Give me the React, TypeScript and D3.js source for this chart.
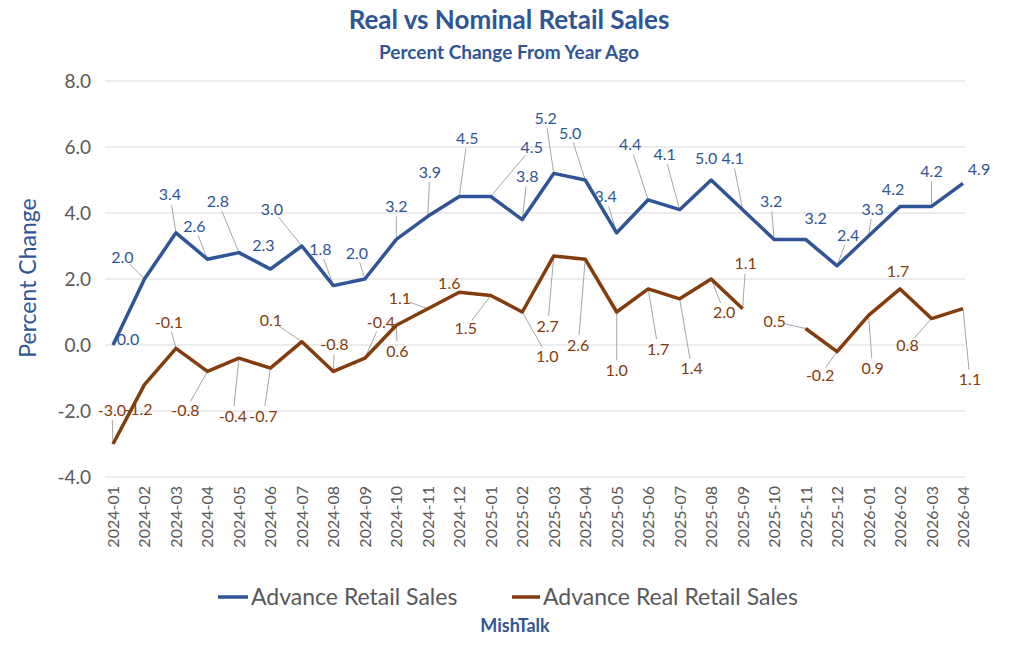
import React from "react";
import * as d3 from "d3";

const months = ["2024-01","2024-02","2024-03","2024-04","2024-05","2024-06","2024-07","2024-08","2024-09","2024-10","2024-11","2024-12","2025-01","2025-02","2025-03","2025-04","2025-05","2025-06","2025-07","2025-08","2025-09","2025-10","2025-11","2025-12","2026-01","2026-02","2026-03","2026-04"];
const nominal: number[] = [0.0,2.0,3.4,2.6,2.8,2.3,3.0,1.8,2.0,3.2,3.9,4.5,4.5,3.8,5.2,5.0,3.4,4.4,4.1,5.0,4.1,3.2,3.2,2.4,3.3,4.2,4.2,4.9];
const real: (number | null)[] = [-3.0,-1.2,-0.1,-0.8,-0.4,-0.7,0.1,-0.8,-0.4,0.6,1.1,1.6,1.5,1.0,2.7,2.6,1.0,1.7,1.4,2.0,1.1,null,0.5,-0.2,0.9,1.7,0.8,1.1];
const yTicks = [-4, -2, 0, 2, 4, 6, 8];

// label offsets (styling)
const nomOff: [number, number][] = [[15,-6],[-22,-22],[-6,-38],[-13,-33],[-21,-51],[-7,-24],[-30,-37],[-13,-36],[-8,-26],[0,-33],[2,-44],[8,-58],[41,-49],[5,-43],[-8,-55],[-15,-47],[-11,-36],[-18,-55],[-15,-55],[-5,-22],[-10,-51],[-3,-38],[10,-21],[11,-30],[4,-27],[-7,-17],[0,-35],[16,-14]];
const realOff: [number, number][] = [[-1,-34],[-6,25],[-7,-26],[-22,39],[-6,58],[-7,48],[-31,-21],[1,-27],[16,-36],[1,26],[-28,-10],[-10,-9],[-25,33],[25,44],[-6,70],[-7,86],[0,58],[10,60],[12,70],[13,33],[3,-45],[0,0],[-31,-7],[-17,24],[4,53],[-2,-18],[-24,27],[7,71]];

const BLUE = "#2f5597";
const BROWN = "#843c0c";
const FONT = "Lato, 'Noto Sans', sans-serif";

export default function App() {
  const x = d3.scalePoint<string>().domain(months).range([113, 963]);
  const y = d3.scaleLinear().domain([-4, 8]).range([477, 81]);
  const nomLine = d3.line<number>().x((_, i) => x(months[i])!).y(d => y(d));
  const realLine = d3.line<number | null>().defined(d => d !== null).x((_, i) => x(months[i])!).y(d => y(d as number));

  const labels = (vals: (number | null)[], off: [number, number][], color: string) =>
    vals.map((v, i) => {
      if (v === null) return null;
      const px = x(months[i])!, py = y(v);
      const [dx, dy] = off[i];
      const lx = px + dx, ly = py + dy;
      const dist = Math.hypot(dx, dy);
      let leader = null;
      if (dist > 26) {
        const ex = lx - (dx / dist) * 10, ey = ly - (dy / dist) * 10;
        leader = <line x1={px} y1={py} x2={ex} y2={ey} stroke="#a6a6a6" strokeWidth={1} />;
      }
      return (
        <g key={i}>
          {leader}
          <text x={lx} y={ly} dy="0.35em" textAnchor="middle" fontSize={16} fill={color} fontFamily={FONT}>{v.toFixed(1)}</text>
        </g>
      );
    });

  return (
    <svg width={1024} height={663} style={{ position: "absolute", left: 0, top: 0, background: "#fff" }}>
      <text x={509} y={29} textAnchor="middle" fontSize={26} fontWeight="bold" fill={BLUE} fontFamily={FONT}>Real vs Nominal Retail Sales</text>
      <text x={509} y={59} textAnchor="middle" fontSize={19} fontWeight="bold" fill={BLUE} fontFamily={FONT}>Percent Change From Year Ago</text>
      {yTicks.map(t => (
        <g key={t}>
          <line x1={105} x2={965} y1={y(t)} y2={y(t)} stroke="#d9d9d9" strokeWidth={1} />
          <text x={91} y={y(t)} dy="0.35em" textAnchor="end" fontSize={19} fill="#595959" fontFamily={FONT}>{t.toFixed(1)}</text>
        </g>
      ))}
      <text transform="translate(36,278) rotate(-90)" textAnchor="middle" fontSize={23} fill={BLUE} fontFamily={FONT}>Percent Change</text>
      {months.map(m => (
        <text key={m} transform={`translate(${x(m)! + 6},486) rotate(-90)`} textAnchor="end" fontSize={16} fill="#595959" fontFamily={FONT}>{m}</text>
      ))}
      {labels(nominal, nomOff, BLUE)}
      {labels(real, realOff, BROWN)}
      <path d={nomLine(nominal)!} fill="none" stroke={BLUE} strokeWidth={3.5} strokeLinejoin="round" />
      <path d={realLine(real)!} fill="none" stroke={BROWN} strokeWidth={3.5} strokeLinejoin="round" />
      <line x1={218} x2={248} y1={597} y2={597} stroke={BLUE} strokeWidth={3.5} />
      <text x={251} y={597} dy="0.35em" fontSize={23} fill="#595959" fontFamily={FONT}>Advance Retail Sales</text>
      <line x1={512} x2={540} y1={597} y2={597} stroke={BROWN} strokeWidth={3.5} />
      <text x={543} y={597} dy="0.35em" fontSize={23} fill="#595959" fontFamily={FONT}>Advance Real Retail Sales</text>
      <text x={515} y={632} textAnchor="middle" fontSize={18} fontWeight="bold" fill={BLUE} fontFamily={FONT}>MishTalk</text>
    </svg>
  );
}
